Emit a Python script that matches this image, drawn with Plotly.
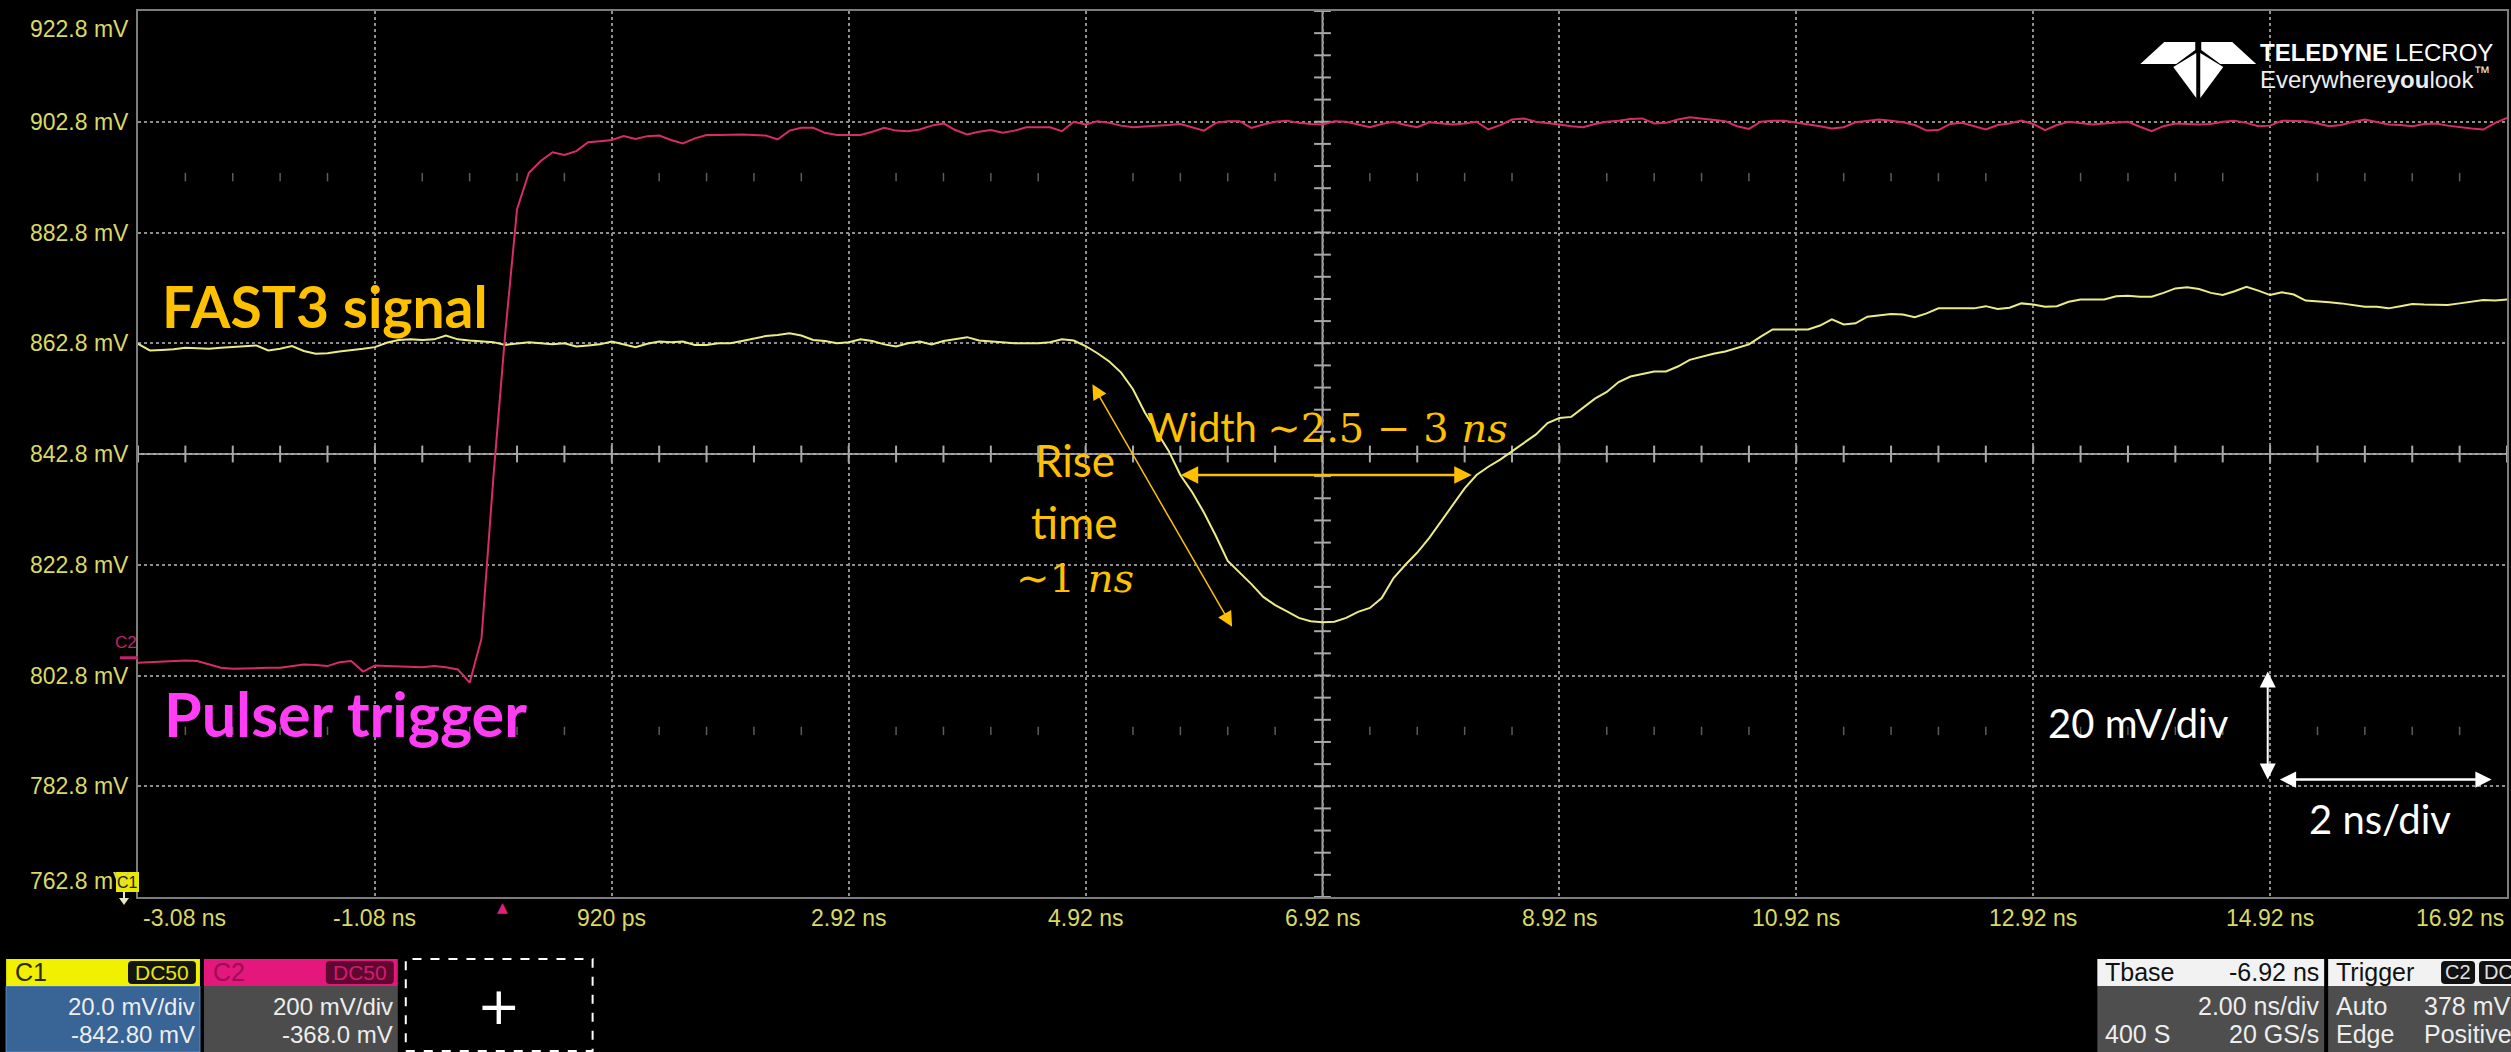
import plotly.graph_objects as go

# ---------------- waveform samples, 100 ps apart ----------------
T_START_NS = -3.08
T_STEP_NS = 0.1

# Channel 1 : FAST3 output (mV)
c1_mv = [
    862.7, 861.5, 861.6, 861.7, 862.0, 861.9, 861.8, 862.0, 862.1, 862.3,
    862.4, 861.5, 861.8, 862.3, 861.4, 860.9, 861.0, 861.3, 861.5, 861.8,
    862.1, 862.9, 863.4, 863.5, 863.4, 863.5, 864.2, 863.5, 863.3, 863.2,
    863.0, 862.5, 862.7, 863.0, 862.8, 862.6, 862.8, 862.2, 862.4, 862.6,
    863.1, 862.6, 862.1, 862.7, 863.1, 863.0, 863.1, 862.5, 862.5, 862.8,
    862.8, 863.2, 863.6, 864.1, 864.3, 864.6, 864.2, 863.4, 863.2, 862.8,
    863.0, 863.5, 863.2, 862.6, 862.2, 862.8, 863.1, 862.6, 863.2, 863.5,
    863.9, 863.3, 863.1, 863.0, 862.8, 862.8, 862.8, 863.0, 863.5, 863.3,
    862.3, 861.0, 859.5, 857.5, 854.5, 850.3, 846.8, 843.4, 839.0, 835.9,
    832.2, 828.0, 823.5, 821.4, 819.3, 817.0, 815.5, 814.4, 813.2, 812.6,
    812.4, 812.5, 813.2, 814.3, 815.0, 816.8, 820.4, 822.8, 825.0, 827.6,
    830.6, 833.6, 836.6, 839.0, 840.5, 841.8, 843.3, 844.8, 846.3, 848.4,
    849.3, 849.5, 851.2, 852.8, 854.0, 855.8, 856.8, 857.3, 857.7, 857.7,
    858.6, 859.8, 860.4, 860.9, 861.3, 862.0, 862.6, 864.0, 865.3, 865.3,
    865.3, 865.3, 866.0, 867.1, 866.2, 866.4, 867.6, 867.9, 868.1, 868.0,
    867.5, 868.2, 869.1, 869.1, 869.1, 869.1, 869.5, 869.0, 869.2, 870.0,
    869.8, 869.4, 869.5, 870.3, 870.7, 870.7, 870.7, 871.3, 871.4, 871.2,
    871.2, 871.9, 872.7, 872.9, 872.6, 871.9, 871.5, 872.2, 873.0, 872.3,
    871.5, 872.0, 871.6, 870.5, 870.4, 870.2, 870.0, 869.7, 869.4, 869.4,
    869.1, 869.5, 869.9, 869.8, 869.7, 869.7, 870.0, 870.3, 870.6, 870.5,
    870.7,
]

# Channel 2 : pulser trigger (mV)
c2_mv = [
    -9, -8, -8, -7, -5, -6, -12, -18, -20, -19,
    -19, -18, -18, -15, -12, -13, -15, -8, -6, -25,
    -14, -15, -16, -17, -17, -15, -17, -21, -45, 35,
    325, 585, 810, 876, 897, 913, 908, 915, 931, 933,
    935, 942, 937, 942, 943, 935, 929, 938, 944, 944,
    945, 945, 944, 943, 936, 952, 957, 957, 948, 944,
    944, 944, 950, 957, 952, 951, 954, 961, 965, 953,
    945, 950, 953, 948, 952, 958, 958, 958, 951, 968,
    963, 969, 966, 961, 958, 959, 960, 962, 964, 958,
    952, 966, 969, 969, 957, 963, 968, 970, 966, 964,
    963, 969, 968, 963, 958, 964, 968, 962, 958, 967,
    965, 963, 965, 968, 954, 962, 972, 974, 968, 966,
    963, 960, 958, 964, 968, 970, 973, 974, 965, 966,
    972, 976, 974, 971, 969, 960, 955, 968, 970, 970,
    967, 963, 960, 956, 958, 967, 970, 972, 970, 967,
    962, 952, 953, 964, 966, 960, 954, 962, 965, 970,
    964, 953, 962, 968, 966, 963, 965, 967, 968, 959,
    951, 960, 965, 964, 963, 964, 968, 970, 966, 960,
    961, 970, 969, 969, 965, 960, 962, 968, 972, 967,
    963, 962, 960, 964, 965, 961, 958, 956, 954, 966,
    975,
]

t_ns = [round(T_START_NS + T_STEP_NS * i, 2) for i in range(len(c1_mv))]

# ---------------- graticule labels ----------------
time_ticks = [-3.08, -1.08, 0.92, 2.92, 4.92, 6.92, 8.92, 10.92, 12.92, 14.92, 16.92]
time_tick_text = ["-3.08 ns", "-1.08 ns", "920 ps", "2.92 ns", "4.92 ns", "6.92 ns",
                  "8.92 ns", "10.92 ns", "12.92 ns", "14.92 ns", "16.92 ns"]
volt_ticks = [922.8, 902.8, 882.8, 862.8, 842.8, 822.8, 802.8, 782.8, 762.8]
volt_tick_text = ["922.8 mV", "902.8 mV", "882.8 mV", "862.8 mV", "842.8 mV",
                  "822.8 mV", "802.8 mV", "782.8 mV", "762.8 mV"]

# channel / timebase settings shown in the info boxes
c1_setup = ["20.0 mV/div", "-842.80 mV"]
c2_setup = ["200 mV/div", "-368.0 mV"]
tbase_setup = ["-6.92 ns", "2.00 ns/div", "400 S", "20 GS/s"]
trig_setup = ["Auto", "378 mV", "Edge", "Positive"]

# screen settings
T_MIN, T_MAX = -3.08, 16.92
C1_CENTER, C1_DIV = 842.8, 20.0
C2_CENTER, C2_DIV = 368.0, 200.0
N_VDIV = 8
T_CENTER = 6.92
TRIG_T = 0.0

# ---------------- page geometry (pixels) ----------------
W, H = 2511, 1052
L, R, T, B = 138, 2509, 11, 897
PW, PH = R - L, B - T


def px(xp):
    return (xp - L) / PW


def py(yp):
    return 1 - (yp - T) / PH


SCOPE_FONT = "Liberation Sans, Arial, sans-serif"
NARROW_FONT = "Liberation Sans Narrow, Liberation Sans, Arial, sans-serif"
SLIDE_FONT = "Lato, Calibri, Open Sans, sans-serif"
MATH_FONT = "DejaVu Serif, serif"
TICK_COLOR = "#DADA62"
GRID_COLOR = "#8E8E8E"
AXIS_COLOR = "#A8A8A8"
YELLOW_TRACE = "#ECEC84"
PINK_TRACE = "#D62C6C"
GOLD = "#FFC000"

fig = go.Figure()

# ---------------- graticule decorations ----------------
minor_t = [round(T_MIN + 0.4 * k, 2) for k in range(51)]
minor_v = [round(C1_CENTER - 80 + 4 * k, 1) for k in range(41)]
fig.add_trace(go.Scatter(
    x=minor_t, y=[C1_CENTER] * len(minor_t), mode="markers", hoverinfo="skip",
    marker=dict(symbol="line-ns-open", size=12, color=AXIS_COLOR,
                line=dict(color=AXIS_COLOR, width=2)), showlegend=False))
fig.add_trace(go.Scatter(
    x=[T_CENTER] * len(minor_v), y=minor_v, mode="markers", hoverinfo="skip",
    marker=dict(symbol="line-ew-open", size=12, color=AXIS_COLOR,
                line=dict(color=AXIS_COLOR, width=2)), showlegend=False))
faint_t = [t for t in minor_t if all(abs(t - g) > 0.01 for g in time_ticks)]
for yv in (C1_CENTER + 2.5 * C1_DIV, C1_CENTER - 2.5 * C1_DIV):
    fig.add_trace(go.Scatter(
        x=faint_t, y=[yv] * len(faint_t), mode="markers", hoverinfo="skip",
        marker=dict(symbol="line-ns-open", size=6, color="#5C5C5C",
                    line=dict(color="#5C5C5C", width=1.5)), showlegend=False))

# ---------------- waveforms ----------------
fig.add_trace(go.Scatter(x=t_ns, y=c2_mv, yaxis="y2", mode="lines", name="C2",
                         line=dict(color=PINK_TRACE, width=2), hoverinfo="skip",
                         showlegend=False))
fig.add_trace(go.Scatter(x=t_ns, y=c1_mv, mode="lines", name="C1",
                         line=dict(color=YELLOW_TRACE, width=2), hoverinfo="skip",
                         showlegend=False))

shapes = []
annotations = []

# centre cross of the graticule
shapes.append(dict(type="line", xref="x", yref="paper", x0=T_CENTER, x1=T_CENTER, y0=0, y1=1,
                   line=dict(color=AXIS_COLOR, width=2), layer="below"))
shapes.append(dict(type="line", xref="paper", yref="y", x0=0, x1=1, y0=C1_CENTER, y1=C1_CENTER,
                   line=dict(color=AXIS_COLOR, width=2), layer="below"))

# voltage labels (C1 scale)
v_top, v_bot = max(volt_ticks), min(volt_ticks)
for v, txt in zip(volt_ticks, volt_tick_text):
    shift = -18 if v == v_top else (16 if v == v_bot else 0)
    annotations.append(dict(xref="paper", yref="y", x=0, y=v, xshift=-7, yshift=shift,
                            text=txt, showarrow=False, xanchor="right", yanchor="middle",
                            font=dict(family=SCOPE_FONT, size=23, color=TICK_COLOR)))

# time labels
for t, txt in zip(time_ticks, time_tick_text):
    anchor, xs = "center", 0
    if t == time_ticks[0]:
        anchor, xs = "left", 3
    elif t == time_ticks[-1]:
        anchor, xs = "right", -1
    annotations.append(dict(xref="x", yref="paper", x=t, y=0, xshift=xs, yshift=-6,
                            text=txt, showarrow=False, xanchor=anchor, yanchor="top",
                            font=dict(family=SCOPE_FONT, size=23, color=TICK_COLOR)))

# trigger position marker
annotations.append(dict(xref="x", yref="paper", x=TRIG_T, y=0, yshift=0, text="▲",
                        showarrow=False, xanchor="center", yanchor="top",
                        font=dict(family="DejaVu Sans", size=14, color="#E0207A")))

# C2 ground-level marker
shapes.append(dict(type="line", xref="paper", yref="y2", x0=px(120), x1=px(138), y0=0, y1=0,
                   line=dict(color="#C8206A", width=3)))
annotations.append(dict(xref="paper", yref="y2", x=px(126), y=0, yshift=15, text="C2",
                        showarrow=False, xanchor="center", yanchor="middle",
                        font=dict(family=NARROW_FONT, size=17, color="#C8206A")))

# C1 offset marker (ground below the screen)
shapes.append(dict(type="rect", xref="paper", yref="paper", x0=px(116), x1=px(139),
                   y0=py(892), y1=py(872), fillcolor="#E8E800", line=dict(width=0)))
annotations.append(dict(xref="paper", yref="paper", x=px(127.5), y=py(882), text="C1",
                        showarrow=False, xanchor="center", yanchor="middle",
                        font=dict(family=NARROW_FONT, size=16, color="#202000")))
shapes.append(dict(type="line", xref="paper", yref="paper", x0=px(124), x1=px(124),
                   y0=py(892), y1=py(899), line=dict(color="#E6E6C0", width=2)))
shapes.append(dict(type="path", xref="paper", yref="paper",
                   path=f"M {px(119)},{py(898)} L {px(129)},{py(898)} L {px(124)},{py(905)} Z",
                   fillcolor="#E6E6C0", line=dict(width=0)))


# ---------------- vendor logo ----------------
def poly(points):
    return "M " + " L ".join(f"{px(x)},{py(y)}" for x, y in points) + " Z"


logo_parts = [
    [(2142, 64), (2166, 42), (2197, 42), (2197, 50), (2178, 64)],
    [(2258, 64), (2234, 42), (2203, 42), (2203, 50), (2222, 64)],
    [(2175, 67), (2198, 53), (2198, 98)],
    [(2225, 67), (2202, 53), (2202, 98)],
]
for part in logo_parts:
    shapes.append(dict(type="path", xref="paper", yref="paper", path=poly(part),
                       fillcolor="white", line=dict(width=0)))
annotations.append(dict(xref="paper", yref="paper", x=px(2497), y=py(53),
                        text="<b>TELEDYNE</b> LECROY", showarrow=False, xanchor="right",
                        yanchor="middle", font=dict(family=NARROW_FONT, size=24, color="white")))
annotations.append(dict(xref="paper", yref="paper", x=px(2494), y=py(78),
                        text="Everywhere<b>you</b>look<sup>™</sup>", showarrow=False,
                        xanchor="right", yanchor="middle",
                        font=dict(family=NARROW_FONT, size=24, color="#EDEDED")))


# ---------------- info boxes along the bottom ----------------
def rect(x0, y0, x1, y1, fill, line_color=None, width=0, dash=None):
    ln = dict(width=width)
    if line_color:
        ln["color"] = line_color
    if dash:
        ln["dash"] = dash
    shapes.append(dict(type="rect", xref="paper", yref="paper", x0=px(x0), x1=px(x1),
                       y0=py(y1), y1=py(y0), fillcolor=fill, line=ln))


def rrect(x0, y0, x1, y1, r, fill):
    p = (f"M {px(x0 + r)},{py(y0)} L {px(x1 - r)},{py(y0)} Q {px(x1)},{py(y0)} {px(x1)},{py(y0 + r)} "
         f"L {px(x1)},{py(y1 - r)} Q {px(x1)},{py(y1)} {px(x1 - r)},{py(y1)} "
         f"L {px(x0 + r)},{py(y1)} Q {px(x0)},{py(y1)} {px(x0)},{py(y1 - r)} "
         f"L {px(x0)},{py(y0 + r)} Q {px(x0)},{py(y0)} {px(x0 + r)},{py(y0)} Z")
    shapes.append(dict(type="path", xref="paper", yref="paper", path=p, fillcolor=fill,
                       line=dict(width=0)))


def text(xp, yp, s, color="#EDEDED", size=24, anchor="left", family=SCOPE_FONT):
    annotations.append(dict(xref="paper", yref="paper", x=px(xp), y=py(yp), text=s,
                            showarrow=False, xanchor=anchor, yanchor="middle",
                            font=dict(family=family, size=size, color=color)))


HDR0, HDR1, BOT = 959, 986, 1052
ROW1, ROW2 = 1006, 1034

# C1 descriptor
rect(6, HDR1, 200, BOT, "#386496", "#5B8FCC", 1)
rect(6, HDR0, 200, HDR1, "#F0F000")
rrect(128, 961, 196, 984, 4, "#141414")
text(13, 972, "C1", color="#2A2A00", size=25)
text(162, 972, "DC50", color="#E6E600", size=21, anchor="center")
text(197, ROW1, c1_setup[0], anchor="right")
text(197, ROW2, c1_setup[1], anchor="right")

# C2 descriptor
rect(204, HDR1, 398, BOT, "#4C4C4C")
rect(204, HDR0, 398, HDR1, "#E4177C")
rrect(326, 961, 394, 984, 4, "#5E0830")
text(211, 972, "C2", color="#9C0E54", size=25)
text(360, 972, "DC50", color="#D41A72", size=21, anchor="center")
text(395, ROW1, c2_setup[0], anchor="right")
text(395, ROW2, c2_setup[1], anchor="right")

# empty slot
rect(406, HDR0, 593, BOT - 1, "black", "white", 2, "dash")
text(499, 1006, "+", color="white", size=52, anchor="center", family="DejaVu Sans")

# timebase
rect(2099, HDR1, 2326, BOT, "#4E4E4E")
rect(2099, HDR0, 2326, HDR1, "#F2F2F2")
text(2105, 972, "Tbase", color="#111111", size=25)
text(2323, 972, tbase_setup[0], color="#111111", size=25, anchor="right")
text(2323, ROW1, tbase_setup[1], size=25, anchor="right")
text(2105, ROW2, tbase_setup[2], size=25)
text(2323, ROW2, tbase_setup[3], size=25, anchor="right")

# trigger
rect(2330, HDR1, 2515, BOT, "#4E4E4E")
rect(2330, HDR0, 2515, HDR1, "#F2F2F2")
text(2336, 972, "Trigger", color="#111111", size=25)
rrect(2443, 961, 2477, 984, 4, "#111111")
rrect(2481, 961, 2520, 984, 4, "#111111")
text(2460, 972, "C2", color="#E0E0E0", size=20, anchor="center")
text(2484, 972, "DC", color="#E0E0E0", size=20)
text(2336, ROW1, trig_setup[0], size=25)
text(2424, ROW1, trig_setup[1], size=25)
text(2336, ROW2, trig_setup[2], size=25)
text(2424, ROW2, trig_setup[3], size=25)

# ---------------- slide annotations ----------------
annotations.append(dict(xref="x", yref="y", x=-1.50, y=869.5, text="<b>FAST3 signal</b>",
                        showarrow=False, xanchor="center", yanchor="middle",
                        font=dict(family=SLIDE_FONT, size=57, color=GOLD)))
annotations.append(dict(xref="x", yref="y", x=-1.33, y=795.9, text="<b>Pulser trigger</b>",
                        showarrow=False, xanchor="center", yanchor="middle",
                        font=dict(family=SLIDE_FONT, size=61, color="#FF3DF5")))

for yv, s in ((841.8, "Rise"), (830.6, "time")):
    annotations.append(dict(xref="x", yref="y", x=4.83, y=yv, text=s, showarrow=False,
                            xanchor="center", yanchor="middle",
                            font=dict(family=SLIDE_FONT, size=44, color=GOLD)))
annotations.append(dict(xref="x", yref="y", x=4.83, y=820.4, text="∼1 <i>ns</i>",
                        showarrow=False, xanchor="center", yanchor="middle",
                        font=dict(family=MATH_FONT, size=40, color=GOLD)))
annotations.append(dict(xref="x", yref="y", x=6.96, y=847.7,
                        text=f"Width <span style='font-family:{MATH_FONT}'>∼2.5 − 3 <i>ns</i></span>",
                        showarrow=False, xanchor="center", yanchor="middle",
                        font=dict(family=SLIDE_FONT, size=40, color=GOLD)))


def double_arrow(x0, y0, x1, y1, color, width, size):
    annotations.append(dict(xref="x", yref="y", axref="x", ayref="y", x=x1, y=y1, ax=x0, ay=y0,
                            text="", showarrow=True, arrowside="end+start",
                            arrowhead=2, startarrowhead=2, arrowsize=size, startarrowsize=size,
                            arrowwidth=width, arrowcolor=color, standoff=0, startstandoff=0))


double_arrow(4.97, 855.65, 6.157, 811.6, GOLD, 1.5, 2.0)
double_arrow(5.71, 839.0, 8.18, 839.0, GOLD, 2.5, 1.4)
double_arrow(14.90, 803.8, 14.90, 784.0, "white", 2, 1.6)
double_arrow(14.99, 784.0, 16.79, 784.0, "white", 2.5, 1.3)

annotations.append(dict(xref="x", yref="y", x=13.81, y=794.3, text="20 mV/div", showarrow=False,
                        xanchor="center", yanchor="middle",
                        font=dict(family=SLIDE_FONT, size=40, color="white")))
annotations.append(dict(xref="x", yref="y", x=15.85, y=776.8, text="2 ns/div", showarrow=False,
                        xanchor="center", yanchor="middle",
                        font=dict(family=SLIDE_FONT, size=40, color="white")))

# ---------------- layout ----------------
axis_common = dict(showticklabels=False, ticks="", zeroline=False, showgrid=True,
                   gridcolor=GRID_COLOR, griddash="dot", gridwidth=1.5,
                   showline=True, linecolor="#7C7C7C", linewidth=2, mirror=True,
                   fixedrange=True)
fig.update_layout(
    width=W, height=H, autosize=False,
    margin=dict(l=L, r=W - R, t=T, b=H - B, pad=0),
    paper_bgcolor="black", plot_bgcolor="black",
    showlegend=False,
    xaxis=dict(range=[T_MIN, T_MAX], tickvals=time_ticks, **axis_common),
    yaxis=dict(range=[C1_CENTER - C1_DIV * N_VDIV / 2, C1_CENTER + C1_DIV * N_VDIV / 2],
               tickvals=volt_ticks, **axis_common),
    yaxis2=dict(range=[C2_CENTER - C2_DIV * N_VDIV / 2, C2_CENTER + C2_DIV * N_VDIV / 2],
                overlaying="y", visible=False, fixedrange=True),
    shapes=shapes,
    annotations=annotations,
)

fig.write_html("out.html", config={"displayModeBar": False})
